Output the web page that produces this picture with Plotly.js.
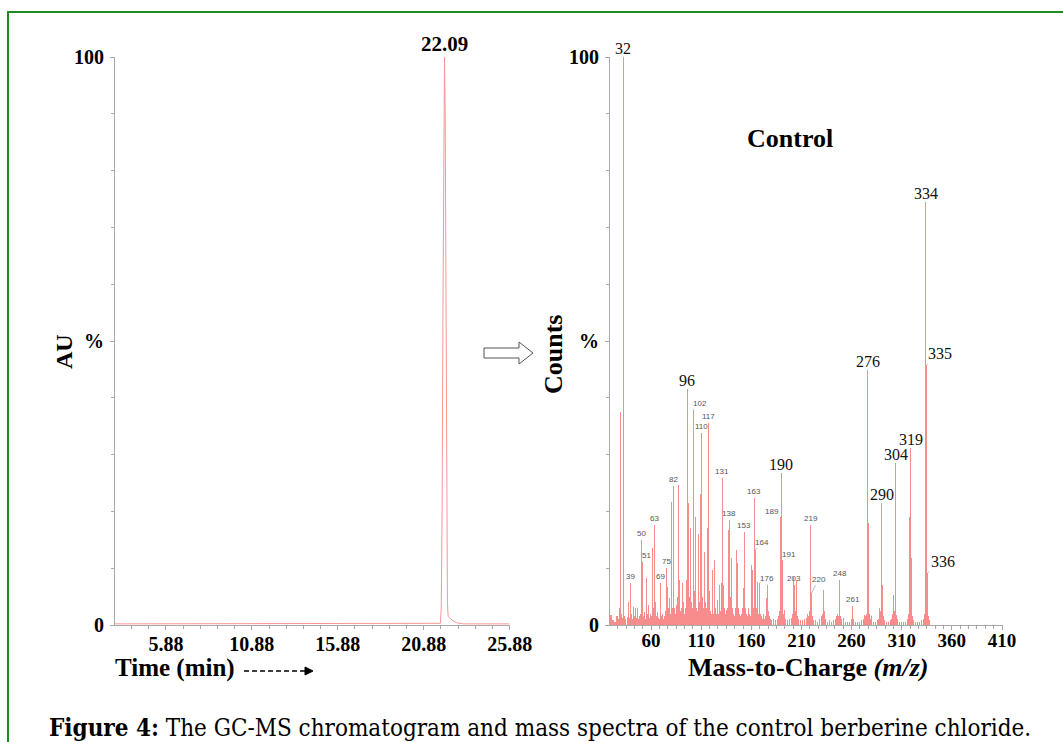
<!DOCTYPE html>
<html>
<head>
<meta charset="utf-8">
<script src="https://cdn.plot.ly/plotly-3.0.1.min.js"></script>
<style>
  html, body { margin: 0; padding: 0; background: #ffffff; }
  #chart { width: 1063px; height: 742px; }
</style>
</head>
<body>
<div id="chart"></div>
<script>
// ---------- Chromatogram (left) ----------
const chromTime = [2.92, 5.0, 10.0, 15.0, 20.0, 21.85, 21.9, 21.95, 22.0, 22.05, 22.09, 22.13, 22.18, 22.22, 22.26, 22.3, 22.4, 22.55, 22.8, 23.2, 25.85];
const chromAU   = [0.2, 0.2, 0.2, 0.2, 0.2, 0.3, 3, 20, 55, 90, 100, 90, 55, 20, 4, 1.5, 1.2, 0.8, 0.4, 0.2, 0.2];
const chromPeakLabel = {time: 22.09, au: 100, text: '22.09'};
const timeTicks = [5.88, 10.88, 15.88, 20.88, 25.88];

// ---------- Mass spectrum (right) ----------
const mz = [20,22,24,26,27,28,29,30,31,32,33,34,36,37,38,39,40,41,42,43,44,45,46,47,48,49,50,51,52,53,54,55,56,57,58,59,60,61,62,63,64,65,66,67,68,69,70,71,72,73,74,75,76,77,78,79,80,81,82,83,84,85,86,87,88,89,90,91,92,93,94,95,96,97,98,99,100,101,102,103,104,105,106,107,108,109,110,111,112,113,114,115,116,117,118,119,120,121,122,123,124,125,126,127,128,129,130,131,132,133,134,135,136,137,138,139,140,141,142,143,144,145,146,147,148,149,150,151,152,153,154,155,156,157,158,159,160,161,162,163,164,165,166,167,168,169,170,171,172,173,174,175,176,177,178,179,180,182,184,186,187,188,189,190,191,192,193,194,196,198,200,201,202,203,204,205,206,207,209,211,213,215,216,217,218,219,220,221,222,224,226,228,230,231,232,233,234,236,238,240,242,244,245,246,247,248,249,250,252,254,256,258,260,261,262,264,266,268,270,272,273,274,275,276,277,278,279,280,282,284,286,287,288,289,290,291,292,293,295,297,299,300,301,302,303,304,305,306,308,310,312,314,316,317,318,319,320,321,322,324,326,328,330,332,333,334,335,336,337,338];
const intensity = [1.8,0.8,0.6,1.6,1.0,3.0,37.5,2.0,1.2,100,1.5,1.0,1.4,4.0,1.2,7.4,2.0,1.0,3.2,1.5,3.0,1.2,3.0,1.0,1.5,2.0,15.0,10.9,1.5,2.3,1.0,8.3,2.0,3.5,1.2,2.0,1.5,13.6,3.0,17.6,4.0,1.5,2.3,1.2,1.0,7.4,1.5,2.0,1.0,1.5,2.5,10.0,6.7,3.0,4.8,2.0,21.7,3.0,24.5,3.0,2.0,3.5,5.0,24.6,8.0,2.5,3.0,7.4,4.0,2.0,3.0,8.0,41.5,21.5,5.0,17.0,4.0,3.0,37.8,6.0,19.0,3.0,2.5,16.0,4.0,23.0,33.8,5.0,3.0,12.8,4.0,3.0,17.0,35.6,6.0,2.5,2.0,9.7,2.0,11.4,3.0,2.0,4.4,2.0,7.0,2.5,7.4,25.9,7.0,3.0,2.0,2.6,3.0,16.7,18.5,5.0,11.8,3.0,2.0,1.5,3.0,13.2,10.9,3.0,2.0,1.5,2.0,3.0,6.5,16.4,3.0,2.0,1.5,3.0,2.0,1.5,10.6,9.7,3.0,22.4,13.2,3.0,7.6,2.0,7.4,2.0,1.5,1.0,2.0,1.0,1.5,4.8,7.0,2.5,1.5,1.0,0.8,1.0,0.8,1.0,1.6,2.5,19.0,26.8,11.4,2.0,2.6,1.0,0.8,1.0,1.2,2.0,8.5,7.0,2.5,7.9,1.5,1.0,0.8,0.8,1.0,1.2,2.0,1.5,2.5,17.6,5.6,1.5,0.8,0.8,0.6,1.0,1.5,2.0,6.2,2.5,1.0,0.6,0.8,0.6,0.8,1.0,1.5,2.0,1.5,7.9,1.5,1.0,1.2,0.6,0.5,0.6,1.0,3.3,1.0,0.5,0.5,0.6,0.8,1.0,1.8,1.5,2.0,44.9,18.0,2.0,1.0,1.5,0.6,0.5,0.8,1.0,3.0,2.5,21.5,7.0,1.5,0.8,0.5,0.6,0.8,1.0,2.0,5.3,2.5,28.5,1.8,1.0,0.6,0.5,0.5,0.6,1.0,2.0,19.0,31.2,11.8,1.5,0.8,0.6,0.5,0.6,0.8,1.0,2.0,74.5,45.8,9.2,1.5,0.8];

// labelled peaks: big serif labels and small sans labels
const bigLabelMz   = [32, 96, 190, 276, 290, 304, 319, 334];
const smallLabelMz = [39, 50, 63, 69, 75, 82, 110, 117, 131, 138, 153, 163, 176, 203, 219, 248, 261];
// labels drawn with a short leader line: [m/z, dx, dy, big?]
const leaderLabels = [[335, 13, -11, true], [336, 15, -11, true], [102, 7, -7, false], [51, 4, -8, false], [164, 7, -8, false], [189, -8, -6, false], [191, 7, -6, false], [220, 7, -14, false]];
const mzTicks = [60, 110, 160, 210, 260, 310, 360, 410];

// ---------- helpers (pixel -> paper) ----------
const W = 1063, H = 742;
const px = x => x / W;
const py = y => 1 - y / H;
const valueAt = m => intensity[mz.indexOf(m)];

const serif = 'Liberation Serif, Times New Roman, serif';
const sans = 'Liberation Sans, Arial, sans-serif';
const barColor = 'rgb(248,140,140)';
const axisGray = '#a8a8a8';

const traces = [
  {
    type: 'scatter', mode: 'lines', x: chromTime, y: chromAU,
    line: {color: 'rgb(250,150,150)', width: 1},
    xaxis: 'x', yaxis: 'y', hoverinfo: 'skip', showlegend: false
  },
  {
    type: 'bar', x: mz, y: intensity, width: 1.05,
    marker: {color: barColor, line: {width: 0}},
    xaxis: 'x2', yaxis: 'y2', hoverinfo: 'skip', showlegend: false
  }
];

const annotations = [];
// chromatogram peak label
annotations.push({
  xref: 'x', yref: 'y', x: chromPeakLabel.time, y: chromPeakLabel.au, text: '<b>' + chromPeakLabel.text + '</b>',
  showarrow: false, xanchor: 'center', yanchor: 'bottom', yshift: -1, font: {family: serif, size: 21, color: '#000'}
});
bigLabelMz.forEach(m => annotations.push({
  xref: 'x2', yref: 'y2', x: m, y: valueAt(m), text: String(m), showarrow: false,
  xanchor: 'center', yanchor: 'bottom', yshift: -2, font: {family: serif, size: 16, color: '#111'}
}));
smallLabelMz.forEach(m => annotations.push({
  xref: 'x2', yref: 'y2', x: m, y: valueAt(m), text: String(m), showarrow: false,
  xanchor: 'center', yanchor: 'bottom', yshift: 0, font: {family: sans, size: 8, color: '#555'}
}));
leaderLabels.forEach(([m, dx, dy, big]) => annotations.push({
  xref: 'x2', yref: 'y2', x: m, y: valueAt(m), text: String(m), showarrow: true,
  arrowhead: 0, arrowwidth: 0.7, arrowcolor: '#999', ax: dx, ay: dy, standoff: 0,
  font: big ? {family: serif, size: 16, color: '#111'} : {family: sans, size: 8, color: '#555'}
}));

// axis titles and text
const paperText = (x, y, text, size, extra) => Object.assign({
  xref: 'paper', yref: 'paper', x: px(x), y: py(y), text: text, showarrow: false,
  xanchor: 'center', yanchor: 'middle', font: {family: serif, size: size, color: '#000'}
}, extra || {});
annotations.push(
  paperText(64, 352, '<b>AU</b>', 24, {textangle: -90}),
  paperText(553, 355, '<b>Counts</b>', 26, {textangle: -90}),
  paperText(113, 668, '<b>Time (min)</b>', 25, {xanchor: 'left'}),
  paperText(808, 667, '<b>Mass-to-Charge <i>(m/z)</i></b>', 26),
  paperText(790, 138, '<b>Control</b>', 26),
  paperText(47, 727, '<b>Figure 4:</b> The GC-MS chromatogram and mass spectra of the control berberine chloride.', 24,
    {xanchor: 'left', font: {family: 'DejaVu Serif Condensed, Liberation Serif, serif', size: 24, color: '#000'}})
);

// decorative shapes: frame, hollow arrow, dashed arrow after "Time (min)"
const arrowPts = [[484,348],[519,348],[519,342],[533,353],[519,364],[519,358],[484,358]];
const arrowPath = 'M ' + arrowPts.map(p => px(p[0]) + ',' + py(p[1])).join(' L ') + ' Z';
const triPath = 'M ' + [[305,667],[313,671],[305,675]].map(p => px(p[0]) + ',' + py(p[1])).join(' L ') + ' Z';
const shapes = [
  {type: 'rect', xref: 'paper', yref: 'paper', x0: px(8), x1: 1.05, y0: -0.05, y1: py(12),
   line: {color: '#1f8b1f', width: 2}, fillcolor: 'rgba(0,0,0,0)'},
  {type: 'path', xref: 'paper', yref: 'paper', path: arrowPath, line: {color: '#555', width: 1}, fillcolor: '#fff'},
  {type: 'line', xref: 'paper', yref: 'paper', x0: px(244), x1: px(305), y0: py(671), y1: py(671),
   line: {color: '#000', width: 1.5, dash: '5px,3px'}},
  {type: 'path', xref: 'paper', yref: 'paper', path: triPath, line: {color: '#000', width: 1}, fillcolor: '#000'}
];

const tickFont = {family: serif, size: 19, color: '#000'};
const yCommon = {
  range: [0, 100], tickmode: 'array', tickvals: [0, 50, 100], ticktext: ['<b>0</b>', '<b>%</b>', '<b>100</b>'],
  showline: true, linecolor: axisGray, linewidth: 1, ticks: 'outside', ticklen: 4, tickcolor: axisGray,
  showgrid: false, zeroline: false, tickfont: {family: serif, size: 20, color: '#000'}, ticklabelstandoff: 2,
  minor: {tickmode: 'linear', tick0: 0, dtick: 10, ticks: 'outside', ticklen: 3, tickcolor: axisGray, showgrid: false},
  fixedrange: true
};
const yDomain = [py(625), py(57)];

const layout = {
  width: W, height: H, margin: {l: 0, r: 0, t: 0, b: 0}, paper_bgcolor: '#fff', plot_bgcolor: 'rgba(0,0,0,0)',
  showlegend: false, bargap: 0,
  xaxis: {
    domain: [px(115), px(510)], range: [2.92, 25.9], tickmode: 'array', tickvals: timeTicks,
    ticktext: timeTicks.map(t => '<b>' + t.toFixed(2) + '</b>'),
    showline: true, linecolor: axisGray, linewidth: 1, ticks: 'outside', ticklen: 4, tickcolor: axisGray,
    showgrid: false, zeroline: false, tickfont: {family: serif, size: 20, color: '#000'}, ticklabelstandoff: -3,
    minor: {tickmode: 'linear', tick0: 0.88, dtick: 1, ticks: 'outside', ticklen: 3, tickcolor: axisGray, showgrid: false},
    anchor: 'y', fixedrange: true
  },
  yaxis: Object.assign({}, yCommon, {domain: yDomain, anchor: 'x'}),
  xaxis2: {
    domain: [px(610), px(1003)], range: [19, 411], tickmode: 'array', tickvals: mzTicks,
    ticktext: mzTicks.map(t => '<b>' + t + '</b>'),
    showline: true, linecolor: axisGray, linewidth: 1, ticks: 'outside', ticklen: 4, tickcolor: axisGray,
    showgrid: false, zeroline: false, tickfont: tickFont, ticklabelstandoff: -6,
    minor: {tickmode: 'linear', tick0: 10, dtick: 50 / 6, ticks: 'outside', ticklen: 3, tickcolor: axisGray, showgrid: false},
    anchor: 'y2', fixedrange: true
  },
  yaxis2: Object.assign({}, yCommon, {domain: yDomain, anchor: 'x2'}),
  annotations: annotations,
  shapes: shapes
};

Plotly.newPlot('chart', traces, layout, {staticPlot: true, displayModeBar: false});
</script>
</body>
</html>
